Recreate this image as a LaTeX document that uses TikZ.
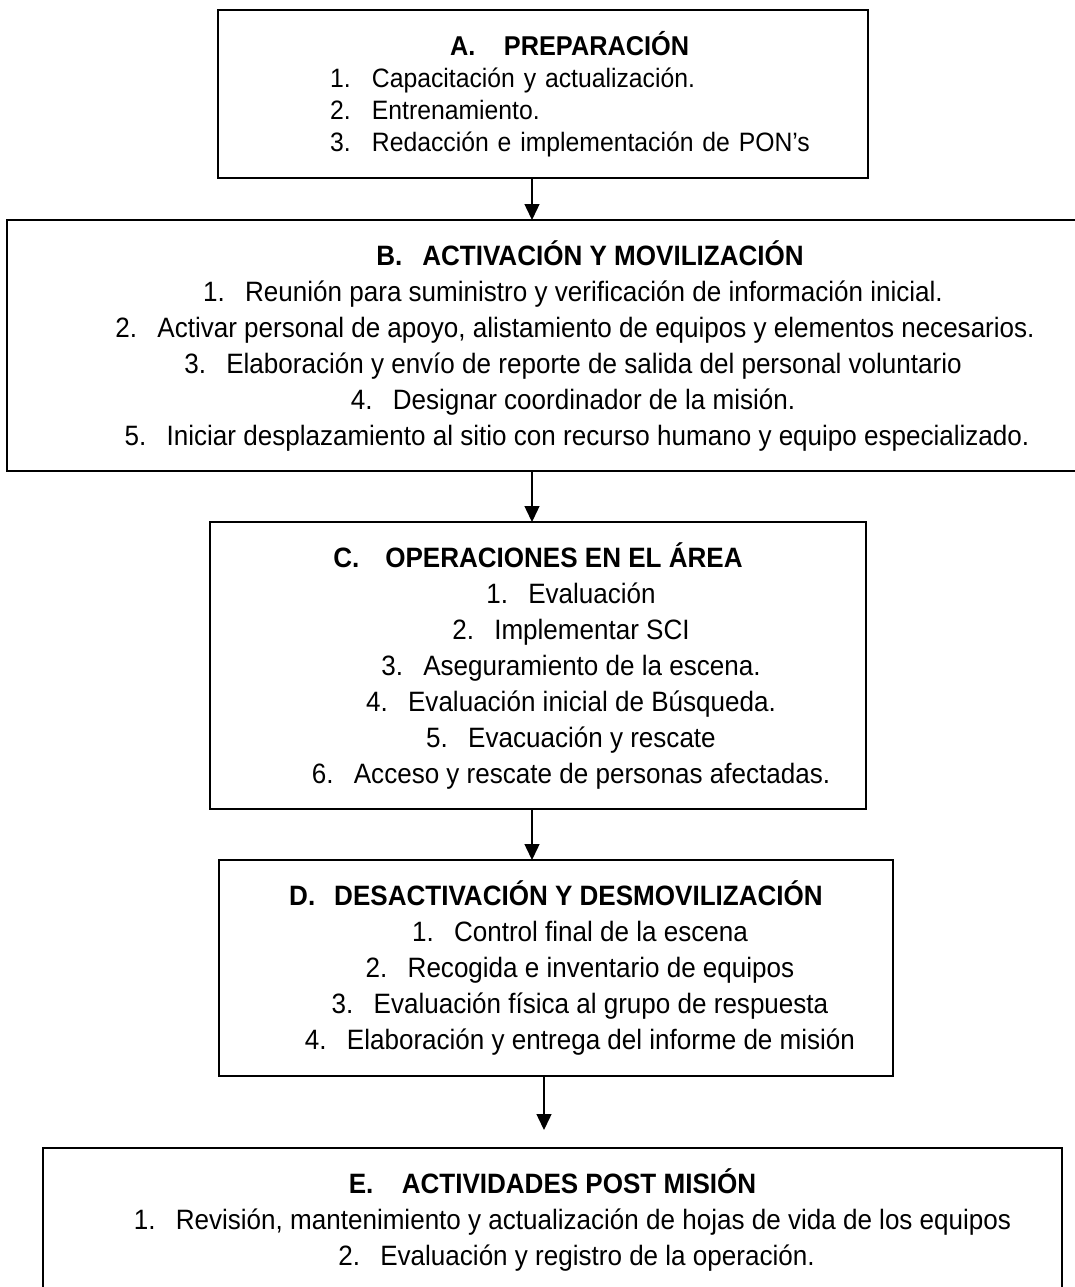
\documentclass[tikz,border=0pt]{standalone}
\usepackage{fontspec}
\setmainfont{Liberation Sans}[FakeStretch=0.93]
\usetikzlibrary{arrows.meta}
\tikzset{
  box/.style={draw, line width=1pt, inner sep=0pt, outer sep=0pt, anchor=north west,
    align=center, font=\fontsize{14}{18}\selectfont},
  arr/.style={-{Triangle[width=7.5pt,length=8pt]}, line width=0.7pt},
}
\newcommand{\hd}[3][25pt]{\textbf{\makebox[#1][l]{#2}#3}}
\newcommand{\itm}[3][0pt]{\hspace*{#1}\makebox[21pt][l]{#2}#3}
\begin{document}
\begin{tikzpicture}[x=0.5pt,y=-0.5pt]
  \path[use as bounding box] (0,0) rectangle (1075,1287);
  \clip (0,0) rectangle (1075,1287);
  %%A
  \node[box, minimum width=325pt, minimum height=84pt, align=left, text width=300pt,
        font=\fontsize{13.3}{16}\selectfont] (A) at (218,10)
    {\hspace*{103.5pt}{\fontsize{13.6}{16}\selectfont\hd[27pt]{A.}{PREPARACIÓN}}\\
     \itm[43.5pt]{1.}{Capacitación y actualización.}\\
     \itm[43.5pt]{2.}{Entrenamiento.}\\
     \itm[43.5pt]{3.}{Redacción e implementación de PON’s}};
  %%B
  \node[box, minimum width=566pt, minimum height=125.5pt] (B) at (7,220)
    {\hspace*{17pt}\hd[23pt]{B.}{ACTIVACIÓN Y MOVILIZACIÓN}\\
     \itm{1.}{Reunión para suministro y verificación de información inicial.}\\
     \itm[2pt]{2.}{Activar personal de apoyo, alistamiento de equipos y elementos necesarios.}\\
     \itm{3.}{Elaboración y envío de reporte de salida del personal voluntario}\\
     \itm{4.}{Designar coordinador de la misión.}\\
     \itm[4pt]{5.}{Iniciar desplazamiento al sitio con recurso humano y equipo especializado.}};
  %%C
  \node[box, minimum width=328pt, minimum height=143.5pt] (C) at (210,522)
    {\hd[26pt]{C.}{OPERACIONES EN EL ÁREA}\\
     \itm[33pt]{1.}{Evaluación}\\
     \itm[33pt]{2.}{Implementar SCI}\\
     \itm[33pt]{3.}{Aseguramiento de la escena.}\\
     \itm[33pt]{4.}{Evaluación inicial de Búsqueda.}\\
     \itm[33pt]{5.}{Evacuación y rescate}\\
     \itm[33pt]{6.}{Acceso y rescate de personas afectadas.}};
  %%D
  \node[box, minimum width=337pt, minimum height=108pt] (D) at (219,860)
    {\hd[22.5pt]{D.}{DESACTIVACIÓN Y DESMOVILIZACIÓN}\\
     \itm[24pt]{1.}{Control final de la escena}\\
     \itm[24pt]{2.}{Recogida e inventario de equipos}\\
     \itm[24pt]{3.}{Evaluación física al grupo de respuesta}\\
     \itm[24pt]{4.}{Elaboración y entrega del informe de misión}};
  %%E
  \node[box, minimum width=509.5pt, minimum height=72pt] (E) at (43,1148)
    {\hd[26.5pt]{E.}{ACTIVIDADES POST MISIÓN}\\
     \itm[20pt]{1.}{Revisión, mantenimiento y actualización de hojas de vida de los equipos}\\
     \itm[24pt]{2.}{Evaluación y registro de la operación.}};

  %%arrows
  \coordinate (ax) at (532,0);
  \coordinate (ex) at (544,0);
  \draw[arr] (A.south -| ax) -- (B.north -| ax);
  \draw[arr] (B.south -| ax) -- (C.north -| ax);
  \draw[arr] (C.south -| ax) -- (D.north -| ax);
  \draw[arr] (D.south -| ex) -- ([yshift=9pt]E.north -| ex);
\end{tikzpicture}
\end{document}
